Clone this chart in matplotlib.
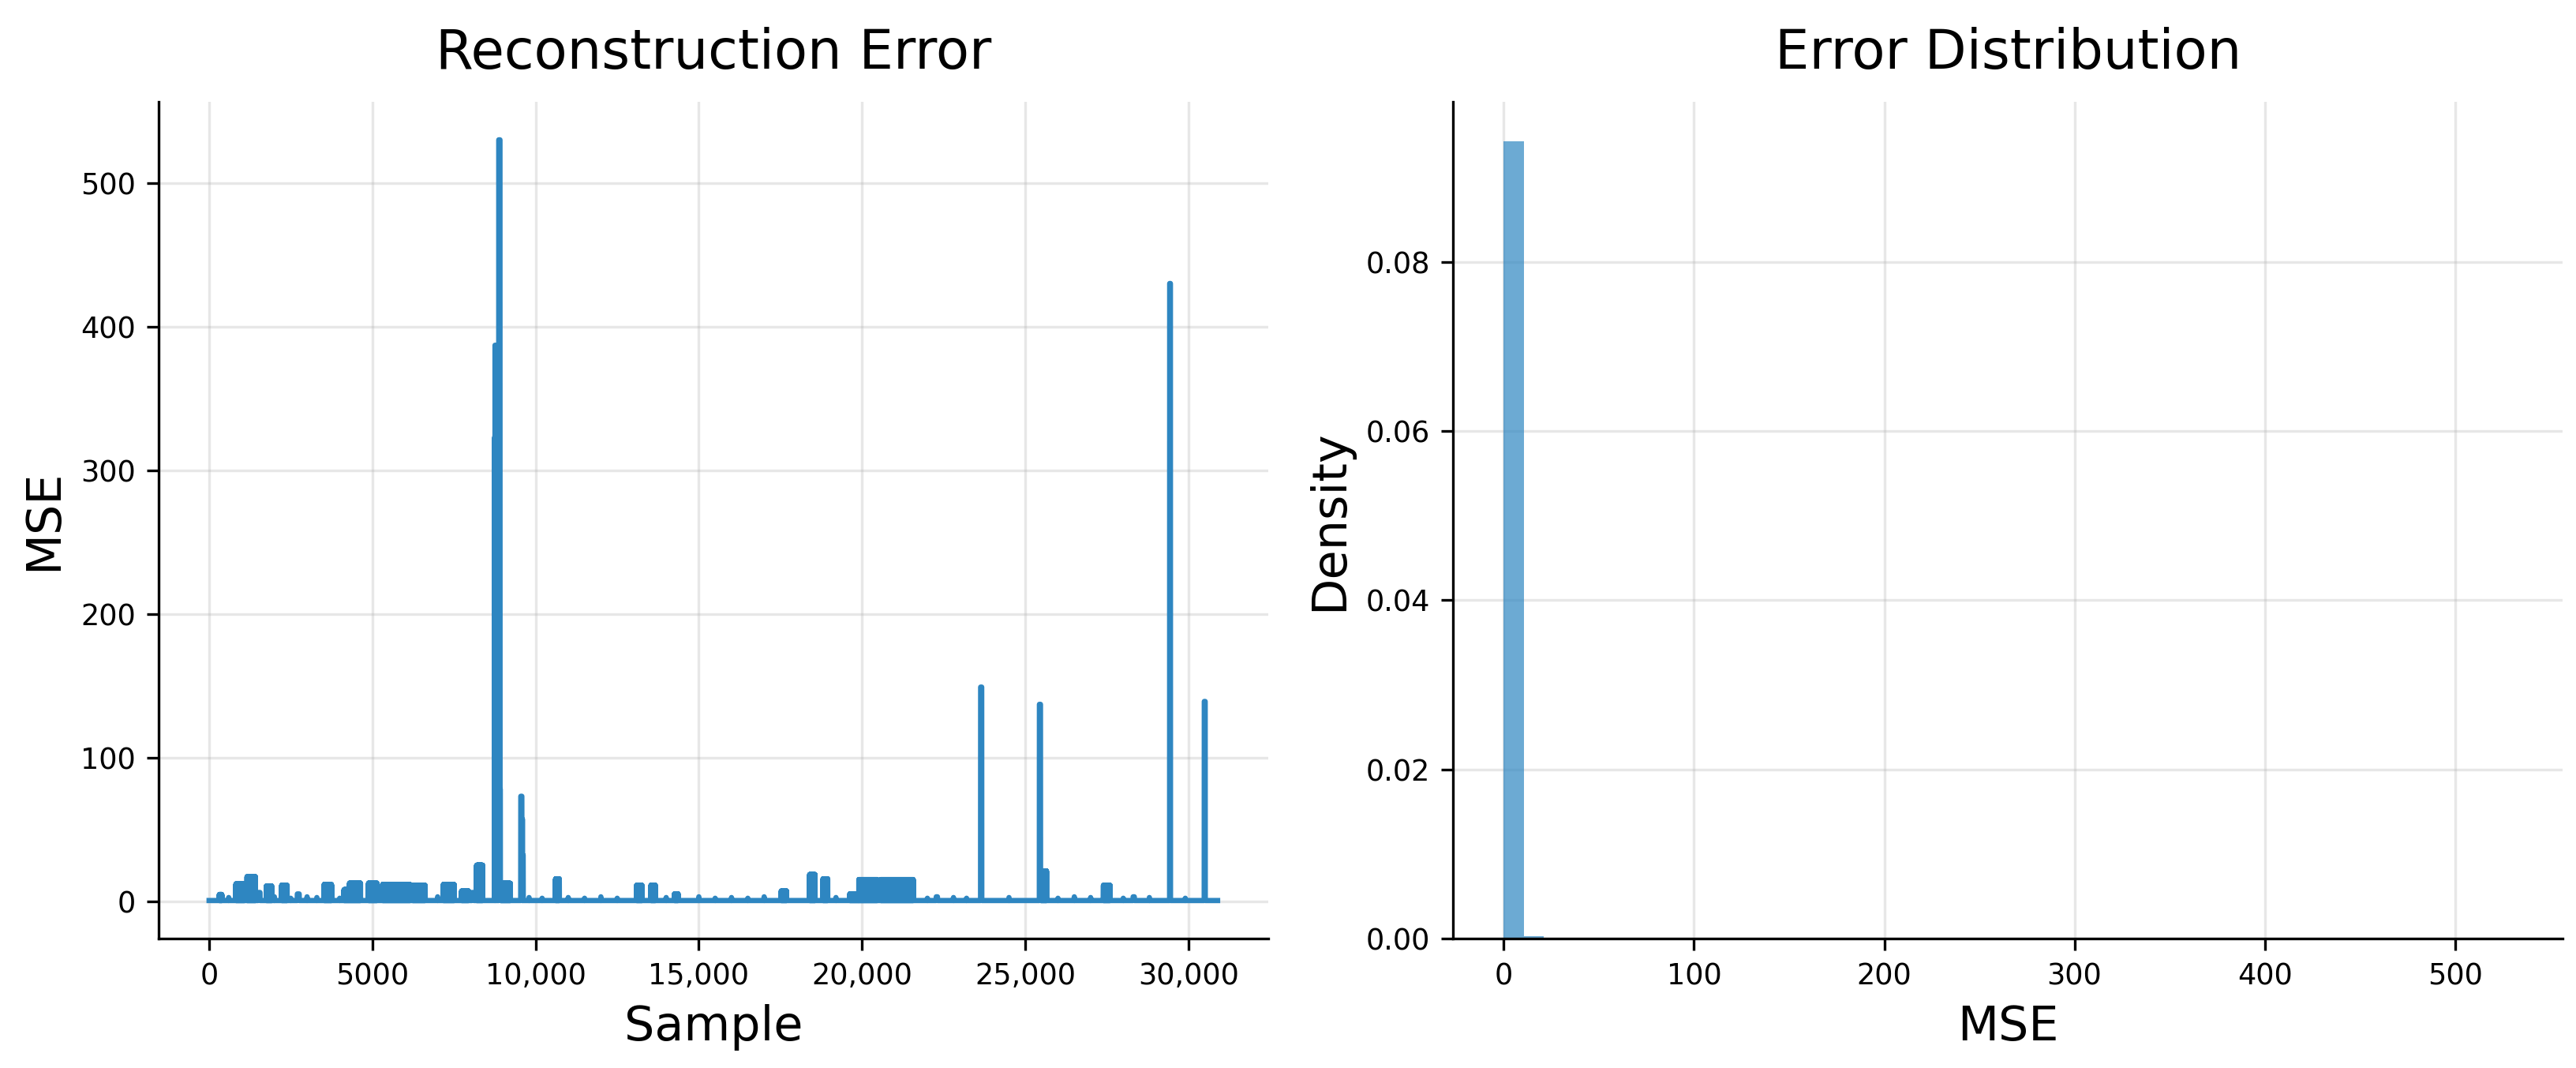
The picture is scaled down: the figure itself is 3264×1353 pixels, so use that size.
import numpy as np
import matplotlib
matplotlib.use("Agg")
import matplotlib.pyplot as plt

# reconstruction error trace
n_samples = 30890
baseline = 0.4

# bursts of high error: (start, end, height)
burst_start = [310, 820, 1160, 1500, 1750, 2220, 2700, 3520, 4130, 4300, 4880, 5310, 6230,
               7170, 7730, 8050, 8190, 8745, 8755, 8870, 8910, 8930, 9545, 9590, 9610,
               10610, 13090, 13530, 14250, 17520, 18390, 18800, 19620, 19900, 20570,
               22270, 23630, 25430, 25480, 27390, 28300, 29420, 30480]
burst_end = [390, 1090, 1420, 1560, 1920, 2390, 2760, 3750, 4300, 4640, 5140, 6160, 6620,
             7510, 7950, 8110, 8380, 8752, 8762, 8910, 8920, 9230, 9580, 9600, 9620,
             10730, 13260, 13670, 14370, 17690, 18560, 18950, 19900, 20470, 21570,
             22310, 23665, 25465, 25650, 27600, 28340, 29445, 30510]
burst_height = [4.6, 12, 17, 6, 10.5, 11, 5, 11.5, 8, 12.5, 12.5, 11.5, 11,
                11.5, 7, 6, 25, 323, 387, 530, 78, 12.4, 73, 57, 32,
                15.5, 11, 11, 5, 7, 18.5, 15.5, 5, 15, 15,
                3, 149, 137, 21, 11, 3, 430, 139]

# small blips on the baseline
blip_pos = [600, 2000, 2500, 3000, 3300, 4000, 7000, 9800, 10200, 11000, 11500, 12000,
            12500, 14000, 15000, 15500, 16000, 16500, 17000, 19200, 22000, 22800, 23200,
            24500, 26000, 26500, 27000, 28000, 28800, 29900]
blip_height = [2.5, 3, 2, 3, 2.5, 2, 3, 2.5, 2, 2.5, 2, 3, 2, 2.5, 3, 2, 2.5, 2, 3, 2.5,
               2, 2.5, 2, 2.5, 2, 3, 2.5, 2, 2.5, 2]

# histogram densities (50 bins)
hist_density = [0.0942, 0.0003] + [0.0] * 48

x_tick_vals = [0, 5000, 10000, 15000, 20000, 25000, 30000]
x_tick_labels = ["0", "5000", "10,000", "15,000", "20,000", "25,000", "30,000"]

line_color = "#2E86C1"

mse = np.full(n_samples, baseline)
for s, e, h in zip(burst_start, burst_end, burst_height):
    if e - s > 60:
        mse[s:e:2] = h
    else:
        mse[s:e] = h
for p, h in zip(blip_pos, blip_height):
    mse[p] = h

fig, (ax1, ax2) = plt.subplots(1, 2, figsize=(10.88, 4.51), dpi=300)
fig.subplots_adjust(left=0.0616, right=0.9948, bottom=0.1212, top=0.9047, wspace=0.167)

ax1.plot(np.arange(n_samples), mse, color=line_color, lw=1.6)
ax1.set_title("Reconstruction Error", fontsize=16.5, pad=10)
ax1.set_xlabel("Sample", fontsize=14.5)
ax1.set_ylabel("MSE", fontsize=14.5)
ax1.set_xticks(x_tick_vals)
ax1.set_xticklabels(x_tick_labels)
ax1.grid(alpha=0.3)

edges = np.linspace(0, mse.max(), len(hist_density) + 1)
ax2.hist(edges[:-1], bins=edges, weights=hist_density, color=line_color, alpha=0.7)
ax2.set_title("Error Distribution", fontsize=16.5, pad=10)
ax2.set_xlabel("MSE", fontsize=14.5)
ax2.set_ylabel("Density", fontsize=14.5)
ax2.set_axisbelow(True)
ax2.grid(alpha=0.3)

for ax in (ax1, ax2):
    ax.tick_params(labelsize=8.8)
    ax.spines["top"].set_visible(False)
    ax.spines["right"].set_visible(False)

fig.savefig("out.png", dpi=300)
